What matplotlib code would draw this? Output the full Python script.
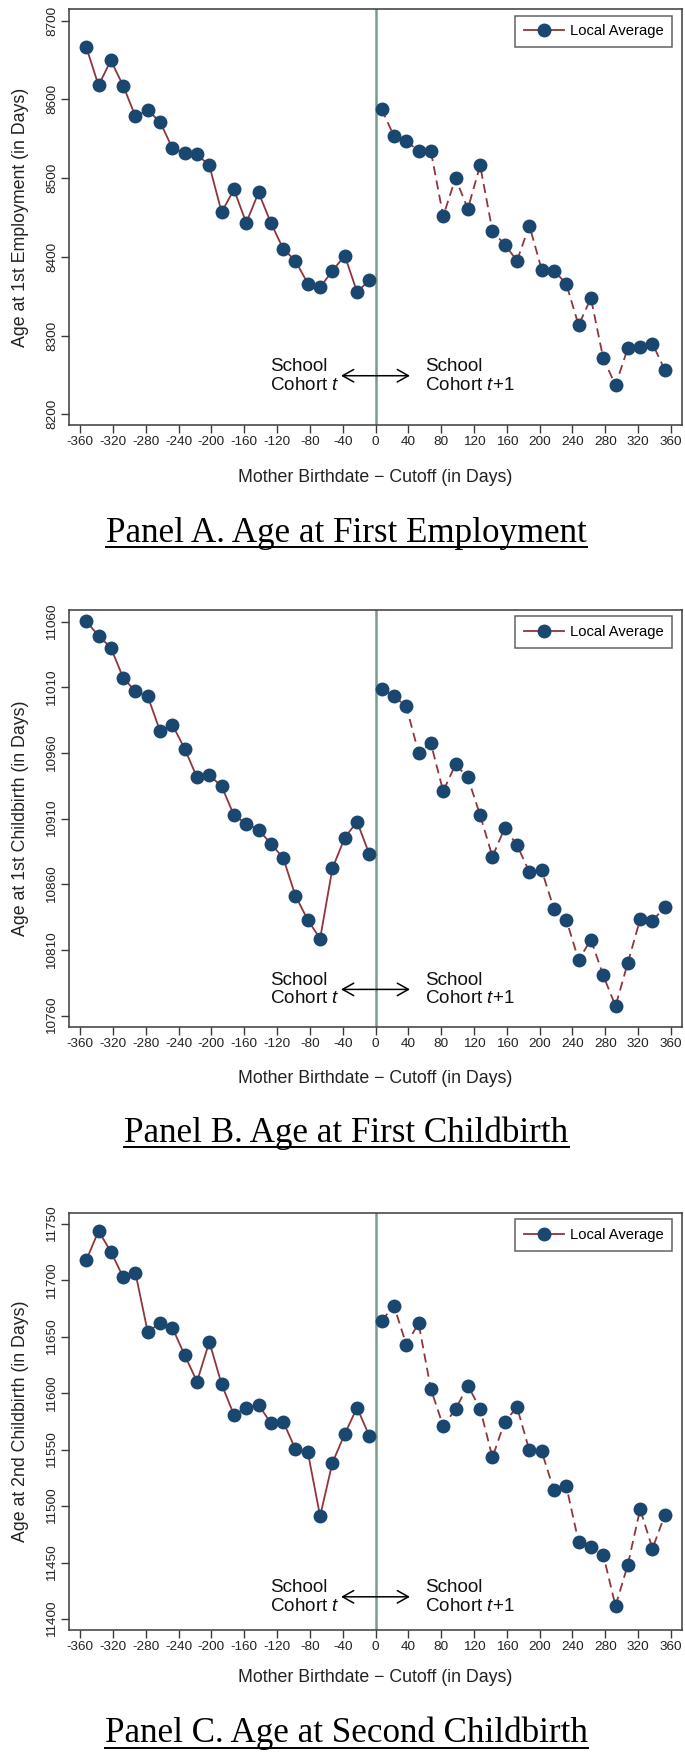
import matplotlib
matplotlib.use("Agg")
import matplotlib.pyplot as plt
from matplotlib.lines import Line2D

plt.rcParams['font.family'] = ['Liberation Sans', 'DejaVu Sans']
plt.rcParams['mathtext.fontset'] = 'custom'
plt.rcParams['mathtext.rm'] = 'Liberation Sans'
plt.rcParams['mathtext.it'] = 'Liberation Sans:italic'

# ---------------- data ----------------
x_left = [-352.5, -337.5, -322.5, -307.5, -292.5, -277.5, -262.5, -247.5,
          -232.5, -217.5, -202.5, -187.5, -172.5, -157.5, -142.5, -127.5,
          -112.5, -97.5, -82.5, -67.5, -52.5, -37.5, -22.5, -7.5]
x_right = [7.5, 22.5, 37.5, 52.5, 67.5, 82.5, 97.5, 112.5,
           127.5, 142.5, 157.5, 172.5, 187.5, 202.5, 217.5, 232.5,
           247.5, 262.5, 277.5, 292.5, 307.5, 322.5, 337.5, 352.5]

emp_left = [8666.5, 8617.8, 8649.6, 8617.4, 8578.4, 8586.4, 8571.2, 8538.1,
            8531.4, 8530.1, 8516.1, 8456.8, 8485.6, 8443.2, 8481.8, 8443.2,
            8410.2, 8394.9, 8366.1, 8361.4, 8382.2, 8401.7, 8355.5, 8370.3]
emp_right = [8587.7, 8553.4, 8547.5, 8534.3, 8534.3, 8451.7, 8500.0, 8461.0,
             8516.1, 8433.1, 8415.3, 8395.3, 8439.8, 8383.9, 8382.6, 8365.7,
             8313.1, 8347.5, 8271.2, 8236.9, 8284.1, 8285.2, 8289.8, 8256.4]

cb1_left = [11060.3, 11049.3, 11040.2, 11017.3, 11006.9, 11003.1, 10976.7, 10981.5,
            10963.2, 10941.4, 10943.1, 10934.7, 10912.6, 10906.3, 10901.5, 10891.0,
            10880.1, 10851.2, 10832.9, 10818.6, 10872.2, 10895.4, 10907.8, 10882.9]
cb1_right = [11008.9, 11003.3, 10995.5, 10960.2, 10967.3, 10930.9, 10951.3, 10941.4,
             10912.6, 10881.1, 10903.0, 10889.8, 10869.5, 10870.7, 10841.3, 10833.1,
             10802.4, 10817.9, 10790.7, 10767.3, 10800.3, 10833.4, 10832.4, 10842.5]

cb2_left = [11717.8, 11743.8, 11725.4, 11703.0, 11706.5, 11654.1, 11662.4, 11658.0,
            11633.7, 11610.4, 11645.6, 11608.0, 11580.8, 11587.0, 11590.0, 11573.4,
            11574.9, 11550.3, 11547.9, 11491.1, 11538.5, 11563.9, 11587.3, 11562.1]
cb2_right = [11664.2, 11677.5, 11643.2, 11662.1, 11603.6, 11571.0, 11585.8, 11606.8,
             11586.4, 11543.2, 11574.9, 11587.6, 11549.4, 11548.5, 11513.9, 11517.8,
             11468.3, 11464.2, 11457.1, 11411.5, 11448.2, 11497.3, 11462.4, 11492.0]

x_ticks = [-360, -320, -280, -240, -200, -160, -120, -80, -40, 0,
           40, 80, 120, 160, 200, 240, 280, 320, 360]
emp_ticks = [8200, 8300, 8400, 8500, 8600, 8700]
cb1_ticks = [10760, 10810, 10860, 10910, 10960, 11010, 11060]
cb2_ticks = [11400, 11450, 11500, 11550, 11600, 11650, 11700, 11750]

y_labels = ["Age at 1st Employment (in Days)",
            "Age at 1st Childbirth (in Days)",
            "Age at 2nd Childbirth (in Days)"]
titles = ["Panel A. Age at First Employment",
          "Panel B. Age at First Childbirth",
          "Panel C. Age at Second Childbirth"]
x_label = "Mother Birthdate \u2212 Cutoff (in Days)"
legend_label = "Local Average"

# ---------------- styling ----------------
W, H = 685, 1762
LINE_C = '#90353B'
MARK_C = '#1A476F'
VLINE_C = '#7A9C8C'
SPINE_C = '#3A3A3A'
TICK_SIZE = 9.7

panels = [
    dict(yl=emp_left, yr=emp_right, ticks=emp_ticks, ylim=(8186.4, 8714.5),
         top=9.3, bot=425.0, ann_y=8249, title_base=541.7, xl=-0.105),
    dict(yl=cb1_left, yr=cb1_right, ticks=cb1_ticks, ylim=(10751.6, 11068.9),
         top=610.0, bot=1026.7, ann_y=10780, title_base=1142.4, xl=-0.105),
    dict(yl=cb2_left, yr=cb2_right, ticks=cb2_ticks, ylim=(11390.3, 11759.7),
         top=1213.0, bot=1630.0, ann_y=11419.7, title_base=1742.5, xl=-0.094),
]

fig = plt.figure(figsize=(W / 100, H / 100), dpi=100)
fig.patch.set_facecolor('white')

left_px, right_px = 69.0, 682.0
title_objs = []
for i, p in enumerate(panels):
    ax = fig.add_axes([left_px / W, (H - p['bot']) / H,
                       (right_px - left_px) / W, (p['bot'] - p['top']) / H])
    ax.axvline(0, color=VLINE_C, lw=1.8, zorder=1)
    ax.plot(x_left, p['yl'], color=LINE_C, lw=1.3, marker='o', ms=9,
            mfc=MARK_C, mec=MARK_C, zorder=3)
    ax.plot(x_right, p['yr'], color=LINE_C, lw=1.3, ls=(0, (5, 3)), marker='o',
            ms=9, mfc=MARK_C, mec=MARK_C, zorder=3)
    ax.set_xlim(-373.5, 373.5)
    ax.set_ylim(*p['ylim'])
    ax.set_xticks(x_ticks)
    ax.set_xticklabels([str(t) for t in x_ticks], size=TICK_SIZE)
    ax.set_yticks(p['ticks'])
    ax.set_yticklabels([str(t) for t in p['ticks']], rotation=90, va='center',
                       size=TICK_SIZE)
    ax.tick_params(axis='both', direction='out', length=5.5, width=1.0,
                   color=SPINE_C, labelcolor='#222222', pad=2.5)
    for s in ax.spines.values():
        s.set_color(SPINE_C)
        s.set_linewidth(1.1)
    ax.set_ylabel(y_labels[i], fontsize=12.8, color='#222222')
    ax.yaxis.set_label_coords(-0.066, 0.5)
    ax.set_xlabel(x_label, fontsize=12.8, color='#222222')
    ax.xaxis.set_label_coords(0.5, p['xl'])

    # annotation
    ax.annotate('', xy=(-42, p['ann_y']), xytext=(42, p['ann_y']),
                arrowprops=dict(arrowstyle='<->,head_length=0.5,head_width=0.28',
                                lw=1.1, color='black', mutation_scale=16,
                                shrinkA=0, shrinkB=0), zorder=4)
    ax.text(-129, p['ann_y'], "School\nCohort $t$", ha='left', va='center',
            fontsize=13.6, linespacing=1.12, color='#111111')
    ax.text(60, p['ann_y'], "School\nCohort $t$+1", ha='left', va='center',
            fontsize=13.6, linespacing=1.12, color='#111111')

    handle = Line2D([], [], color=LINE_C, lw=1.3, marker='o', ms=9,
                    mfc=MARK_C, mec=MARK_C)
    leg = ax.legend([handle], [legend_label], loc='upper right',
                    bbox_to_anchor=(0.984, 0.985), borderaxespad=0,
                    fontsize=10.6, frameon=True, fancybox=False, borderpad=0.6,
                    handlelength=2.7, handletextpad=0.4)
    leg.get_frame().set_edgecolor(SPINE_C)
    leg.get_frame().set_linewidth(1.1)

    t = fig.text(0.506, (H - p['title_base']) / H, titles[i], ha='center',
                 va='baseline', fontsize=25.2, family='Liberation Serif', color='black')
    title_objs.append((t, p['title_base']))

# underline titles
fig.canvas.draw()
renderer = fig.canvas.get_renderer()
for t, base in title_objs:
    bb = t.get_window_extent(renderer)
    y = (H - base - 5) / H
    fig.add_artist(Line2D([bb.x0 / W, bb.x1 / W], [y, y], color='black', lw=1.4,
                          transform=fig.transFigure))

fig.savefig('out.png', dpi=100)
